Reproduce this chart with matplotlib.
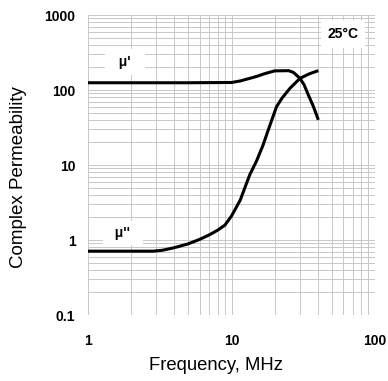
import numpy as np
import matplotlib.pyplot as plt

plt.rcParams['font.family'] = ['Liberation Sans', 'DejaVu Sans']

# frequency (MHz) and permeability values
f_real = [1, 5, 10, 11.5, 13.4, 15, 17, 20, 25, 27, 30, 32, 34.3, 37, 40.3]
mu_real = [125, 125, 126, 132, 143, 152, 165, 180, 181, 172, 143, 118, 86, 62, 40]

f_imag = [1, 2.85, 3.3, 4, 5, 6, 7, 8, 9, 10, 11.5, 13.4, 15, 16.6, 18, 20.6, 22.5, 25.5, 30, 35, 40.3]
mu_imag = [0.71, 0.71, 0.73, 0.79, 0.89, 1.02, 1.17, 1.35, 1.58, 2.09, 3.4, 7.4, 11.5, 18.5, 29, 60, 78, 105, 143, 165, 181]

x_ticks = [1, 10, 100]
y_ticks = [0.1, 1, 10, 100, 1000]

fig = plt.figure(figsize=(3.88, 3.81), dpi=100)
ax = fig.add_axes([0.2268, 0.1732, 0.7397, 0.7874])

ax.plot(f_real, mu_real, color='black', lw=2.2, solid_capstyle='butt')
ax.plot(f_imag, mu_imag, color='black', lw=2.2, solid_capstyle='butt')

ax.set_xscale('log')
ax.set_yscale('log')
ax.set_xlim(1, 100)
ax.set_ylim(0.1, 1000)

ax.grid(True, which='both', color='#c8c8c8', lw=0.7)
ax.set_axisbelow(True)
for s in ax.spines.values():
    s.set_visible(False)

ax.set_xticks(x_ticks)
ax.set_xticklabels(['1', '10', '100'], fontweight='bold', fontsize=10)
ax.set_yticks(y_ticks)
ax.set_yticklabels(['0.1', '1', '10', '100', '1000'], fontweight='bold', fontsize=10)
ax.tick_params(which='both', length=0)
ax.tick_params(axis='x', pad=14)
ax.tick_params(axis='y', pad=9)

ax.set_xlabel('Frequency, MHz', fontsize=13.3)
ax.set_ylabel('Complex Permeability', fontsize=13.5)
ax.xaxis.set_label_coords(0.446, -0.14)
ax.yaxis.set_label_coords(-0.212, 0.46)

ax.text(1.81, 236, "  μ'  ", fontsize=10, fontweight='bold', ha='center', va='center',
        bbox=dict(facecolor='white', edgecolor='none', boxstyle='square,pad=0.45'))
ax.text(1.75, 1.24, "  μ''  ", fontsize=10, fontweight='bold', ha='center', va='center',
        bbox=dict(facecolor='white', edgecolor='none', boxstyle='square,pad=0.35'))
ax.text(59.8, 558, '25°C', fontsize=10, fontweight='bold', ha='center', va='center',
        bbox=dict(facecolor='white', edgecolor='none', boxstyle='square,pad=0.5'))

fig.savefig('out.png', dpi=100)
